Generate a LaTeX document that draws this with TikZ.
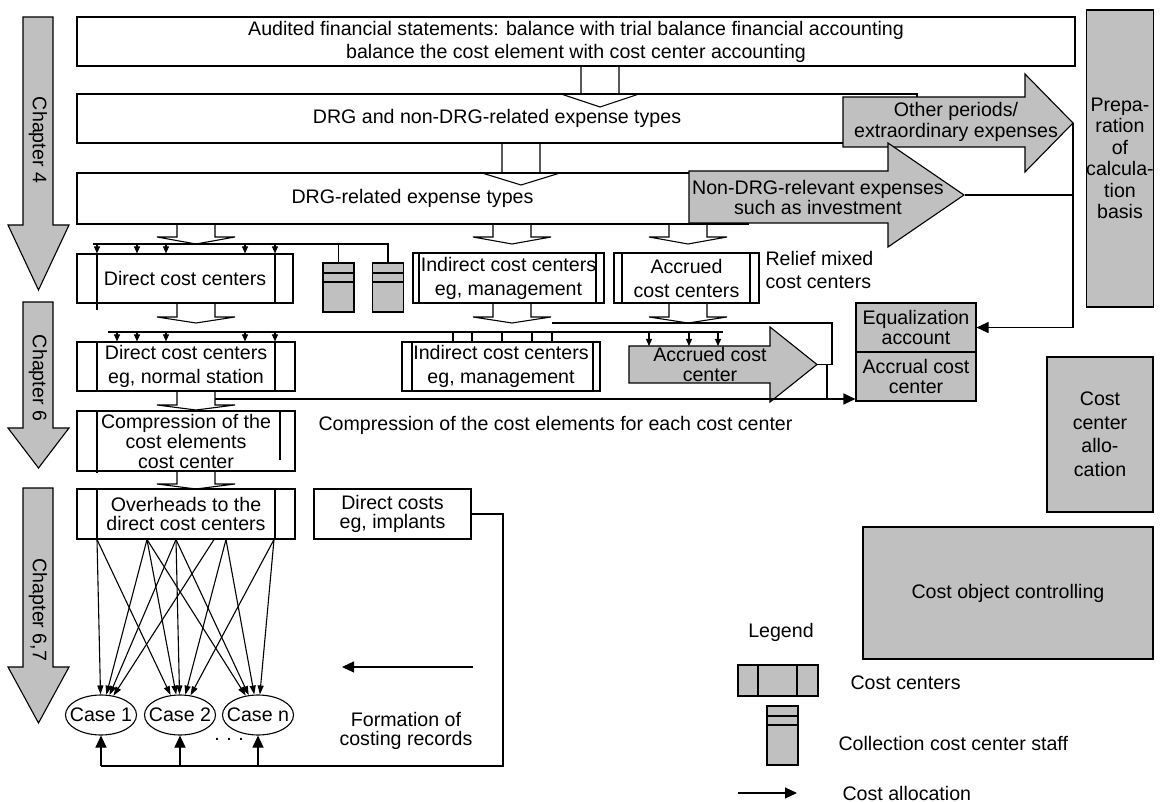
\documentclass[tikz,border=0pt]{standalone}
\usepackage{fontspec}
\setmainfont{Liberation Sans}
\usepackage{tikz}
\usetikzlibrary{arrows.meta,shapes.geometric,calc}

\definecolor{cgray}{RGB}{192,192,192}

% open block arrow pointing down: centre x, top y, head y, tip y
\newcommand{\blockdown}[4]{%
  \draw (#1-19,#2) -- (#1-19,#3) -- (#1-39,#3) -- (#1,#4) -- (#1+39,#3) -- (#1+19,#3) -- (#1+19,#2);}
% grey chapter arrow: top y, head y, tip y
\newcommand{\chapterarrow}[3]{%
  \filldraw[fill=cgray] (23,#1) -- (53,#1) -- (53,#2) -- (69,#2) -- (38.5,#3) -- (8,#2) -- (23,#2) -- cycle;}

\begin{document}
\begin{tikzpicture}[x=1pt,y=-1pt,line width=1.1pt,
  every node/.style={font=\fontsize{19.6}{22}\selectfont, inner sep=0pt},
  tight/.style={font=\fontsize{19.6}{19.5}\selectfont},
  loose/.style={font=\fontsize{19.6}{24}\selectfont},
  box/.style={draw, fill=white, align=center},
  graybox/.style={draw, fill=cgray, align=center},
  ccbox/.style 2 args={box, path picture={
      \draw ([xshift=#1]path picture bounding box.north west) -- ([xshift=#1]path picture bounding box.south west);
      \draw ([xshift=-#2]path picture bounding box.north east) -- ([xshift=-#2]path picture bounding box.south east);}},
  staff/.style={draw, fill=cgray, minimum width=31pt, minimum height=49pt, path picture={
      \draw ([yshift=-10pt]path picture bounding box.north west) -- ([yshift=-10pt]path picture bounding box.north east);
      \draw ([yshift=-19pt]path picture bounding box.north west) -- ([yshift=-19pt]path picture bounding box.north east);}},
  case/.style={draw, ellipse, minimum width=71pt, minimum height=40pt},
  alloc/.style={-{Triangle[width=11pt,length=12pt]}},
  tick/.style={-{Triangle[width=6pt,length=7pt]}},
  spread/.style={-{Triangle[width=6pt,length=9pt]}}]
\useasboundingbox (0,0) rectangle (1160,802);

% chapters
\chapterarrow{17}{225}{290}
\node[rotate=-90] (ch4) at (38,140) {Chapter 4};
\chapterarrow{302}{428}{468}
\node[rotate=-90] (ch6) at (38,378) {Chapter 6};
\chapterarrow{488}{667}{723}
\node[rotate=-90] (ch67) at (38,610) {Chapter 6,7};

% expense types
\node[box, font=\fontsize{19.6}{23}\selectfont, minimum width=998pt, minimum height=49pt] (audit) at (576,41.5)
  {Audited financial statements: balance with trial balance financial accounting\\balance the cost element with cost center accounting};
\node[box, minimum width=840pt, minimum height=49pt] (drgall) at (497,118.5) {DRG and non-DRG-related expense types};
\node[box, minimum width=671pt, minimum height=51pt] (drgrel) at (412.5,198.5) {DRG-related expense types};
\blockdown{600}{66.5}{94}{107}
\blockdown{521}{143.5}{173}{185}

% split off expenses
\filldraw[fill=cgray] (843,97) -- (1025,97) -- (1025,74) -- (1073,123) -- (1025,172) -- (1025,147) -- (843,147) -- cycle;
\node[align=center, font=\fontsize{19.6}{21}\selectfont] (other) at (956,122) {Other periods/\\extraordinary expenses};
\filldraw[fill=cgray] (689,171) -- (888,171) -- (888,143) -- (964,195) -- (888,247) -- (888,223) -- (689,223) -- cycle;
\node[align=center, font=\fontsize{19.6}{20}\selectfont] (nondrg) at (818,197) {Non-DRG-relevant expenses\\such as investment};
\coordinate (optip) at (1073,123);
\coordinate (ndtip) at (965,195);

% first cost center row
\node[ccbox={20pt}{18pt}, minimum width=216pt, minimum height=49pt] (dir1) at (185,278.5) {Direct cost centers};
\node[staff] (st1) at (338.5,287.5) {};
\node[staff] (st2) at (388,287.5) {};
\node[ccbox={6pt}{8pt}, loose, minimum width=191pt, minimum height=50pt] (ind1) at (508.5,278) {Indirect cost centers\\eg, management};
\node[ccbox={8pt}{9pt}, loose, minimum width=145pt, minimum height=50pt] (acr1) at (686.5,278) {Accrued\\cost centers};
\node[anchor=west, align=left, font=\fontsize{19.6}{23}\selectfont] (relief) at (765,270) {Relief mixed\\cost centers};
\blockdown{196}{224.5}{237}{244}
\blockdown{512}{224.5}{237}{244}
\blockdown{688}{224.5}{237}{244}
\coordinate (d1) at (93,244);
\draw (d1) -| (st2.north);
\draw (st1.north |- d1) -- (st1.north);
\foreach \x in {97,137,166,245,275}
  \draw[tick] (\x,244) -- (\x,0 |- dir1.north);
\draw (97,303) -- (97,310);

% second cost center row
\blockdown{196}{303.5}{317}{323}
\blockdown{512}{303.5}{317}{323}
\blockdown{688}{303.5}{317}{323}
\node[ccbox={20pt}{20pt}, loose, minimum width=218pt, minimum height=49pt] (dir2) at (186,366.5) {Direct cost centers\\eg, normal station};
\node[ccbox={10pt}{7pt}, loose, minimum width=198pt, minimum height=49pt] (ind2) at (501,366.5) {Indirect cost centers\\eg, management};
\filldraw[fill=cgray] (629,346) -- (770,346) -- (770,327) -- (817,364.5) -- (770,402) -- (770,383) -- (629,383) -- cycle;
\node[align=center, tight] (acr2) at (710,364.5) {Accrued cost\\center};
\coordinate (actip) at (817,364.5);
\coordinate (acrtop) at (629,346);
\draw (108,332) -- (723,332);
\foreach \x in {117,137,166,245,275}
  \draw[tick] (\x,332) -- (\x,0 |- dir2.north);
\foreach \x in {453,472,502,532,552}
  \draw (\x,332) -- (\x,0 |- ind2.north);
\foreach \x in {649,689,718}
  \draw[tick] (\x,332) -- (\x,0 |- acrtop);
\draw (552,323) -| (832,364.5) -- (actip);
\draw (827,364.5) -- (827,399);

% equalization
\node[graybox, tight, minimum width=120pt, minimum height=49pt] (eq) at (916,327.5) {Equalization\\account};
\node[graybox, tight, minimum width=120pt, minimum height=49pt] (acc) at (916,376.5) {Accrual cost\\center};
\draw (ndtip) -- (ndtip -| optip);
\draw[alloc] (optip) |- (eq.east);

% compression
\blockdown{196}{391.5}{405}{410}
\node[box, font=\fontsize{19.6}{20}\selectfont, minimum width=218pt, minimum height=60pt] (comp) at (186,441) {Compression of the\\cost elements\\cost center};
\draw (97,411) -- (97,473);
\draw (280,411) -- (280,460);
\coordinate (cmp) at (215,399);
\draw[alloc] (cmp) -- (cmp -| acc.west);
\node[anchor=west] (comptext) at (318,425) {Compression of the cost elements for each cost center};

% overheads and cases
\blockdown{196}{471.5}{484}{489}
\node[ccbox={20pt}{20pt}, tight, minimum width=218pt, minimum height=50pt] (ovh) at (186,514) {Overheads to the\\direct cost centers};
\node[box, tight, minimum width=157pt, minimum height=50pt] (dcost) at (392.5,514) {Direct costs\\eg, implants};
\node[case, label=center:Case 1] (c1) at (101,715) {};
\node[case, label=center:Case 2] (c2) at (180,715) {};
\node[case, label=center:Case n] (cn) at (258,715) {};
\node (dots) at (229,739) {.\,\,.\,\,.};
\foreach \x/\c in {97/c1, 97/c2, 147/c1, 147/c2, 147/cn, 176/c1, 176/c2, 176/cn, 214/c1, 226/c2, 226/cn, 274/c2, 274/cn}
  \draw[spread] (\x,0 |- ovh.south) -- (\c);
\coordinate (back) at (503,766);
\draw (dcost.east) -| (back) -- (c1.south |- back);
\foreach \c in {c1,c2,cn}
  \draw[alloc] (\c.south |- back) -- (\c.south);
\coordinate (fa) at (473,667);
\coordinate (fb) at (342,667);
\draw[alloc] (fa) -- (fb);
\node[align=center, tight] (form) at (406,731) {Formation of\\costing records};

% right column
\node[graybox, font=\fontsize{19.6}{21.5}\selectfont, minimum width=66pt, minimum height=297pt] (prep) at (1120,158.5) {Prepa-\\ration\\of\\calcula-\\tion\\basis};
\node[graybox, font=\fontsize{19.6}{23.5}\selectfont, minimum width=106pt, minimum height=155pt] (ccalloc) at (1100,434.5) {Cost\\center\\allo-\\cation};
\node[graybox, minimum width=290pt, minimum height=132pt] (cobj) at (1008,593) {Cost object controlling};

% legend
\node (legend) at (781,632) {Legend};
\node[ccbox={20pt}{21pt}, fill=cgray, minimum width=80pt, minimum height=31pt] (lgcc) at (778,680.5) {};
\node[anchor=west] (lgcctext) at (850,683) {Cost centers};
\node[staff, minimum height=59pt] (lgst) at (782.5,735.5) {};
\node[anchor=west] (lgsttext) at (838,743) {Collection cost center staff};
\coordinate (lga) at (738,793);
\coordinate (lgb) at (797,793);
\draw[alloc] (lga) -- (lgb);
\node[anchor=west] (lgatext) at (842,793) {Cost allocation};

\end{tikzpicture}
\end{document}
